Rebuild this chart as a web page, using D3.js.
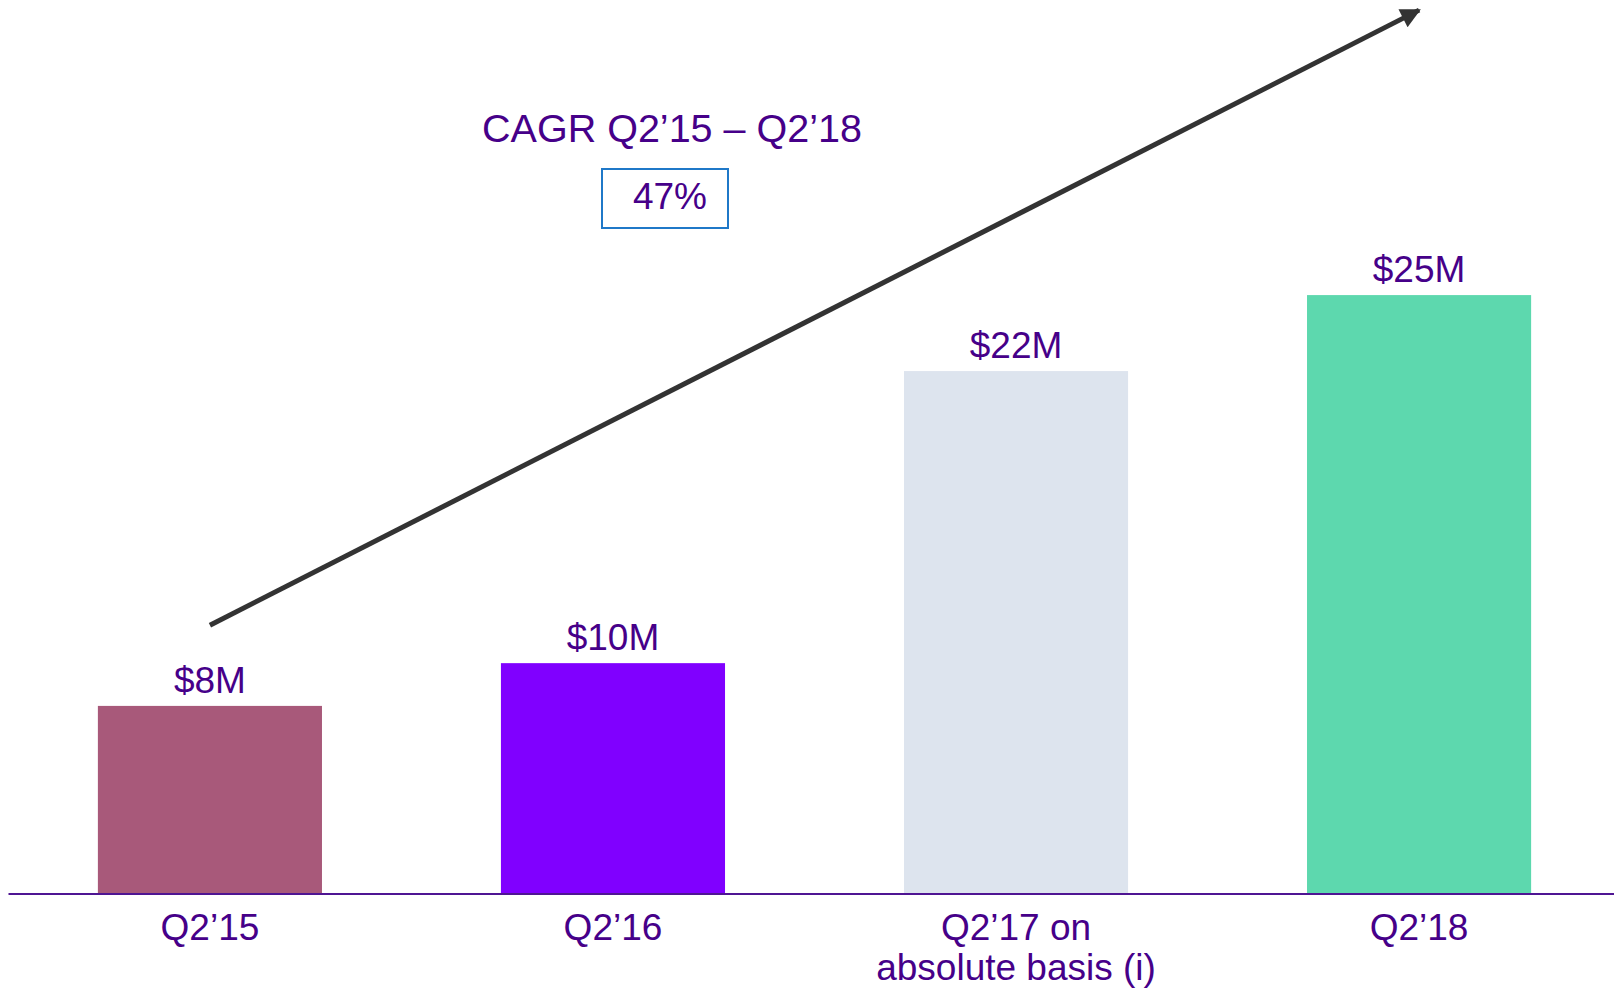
<!DOCTYPE html>
<html>
<head>
<meta charset="utf-8">
<script src="https://cdn.jsdelivr.net/npm/d3@7"></script>
<style>
  body { margin: 0; background: #fff; }
  svg { display: block; font-family: "Liberation Sans", Arial, sans-serif; }
</style>
</head>
<body>
<div id="chart"></div>
<script>
// chart data
const categories = ["Q2’15", "Q2’16", "Q2’17 on\nabsolute basis (i)", "Q2’18"];
const values = [7.9, 9.7, 22.0, 25.2];
const valueLabels = ["$8M", "$10M", "$22M", "$25M"];
const barColors = ["#a8597a", "#8000ff", "#dde4ee", "#5dd8ae"];

const cagrTitle = "CAGR Q2’15 – Q2’18";
const cagrValue = "47%";
// arrow ends, in data space (category, value)
const arrowStart = [categories[0], 11.3];
const arrowEnd = [categories[3], 37.2];

const width = 1614;
const height = 988;
const baseY = 893.5;
const textColor = "#460089";

const svg = d3
  .select("#chart")
  .append("svg")
  .attr("width", width)
  .attr("height", height);

const xScale = d3
  .scaleBand()
  .domain(categories)
  .range([8, 1621])
  .paddingInner(0.444)
  .paddingOuter(0.223);

const yScale = d3.scaleLinear().domain([0, 37.5]).range([baseY, 3]);

// bars
svg
  .selectAll("rect.bar")
  .data(values)
  .join("rect")
  .attr("class", "bar")
  .attr("x", (d, i) => xScale(categories[i]))
  .attr("y", (d) => yScale(d))
  .attr("width", xScale.bandwidth())
  .attr("height", (d) => yScale(0) - yScale(d))
  .attr("fill", (d, i) => barColors[i]);

// value labels
svg
  .selectAll("text.value")
  .data(values)
  .join("text")
  .attr("class", "value")
  .attr("x", (d, i) => xScale(categories[i]) + xScale.bandwidth() / 2)
  .attr("y", (d) => yScale(d) - 13)
  .attr("text-anchor", "middle")
  .attr("font-size", 37)
  .attr("fill", textColor)
  .text((d, i) => valueLabels[i]);

// x axis
const xAxis = svg
  .append("g")
  .attr("class", "x-axis")
  .attr("transform", `translate(0,${baseY})`)
  .call(d3.axisBottom(xScale).tickSize(0).tickSizeOuter(0));

xAxis.select(".domain").attr("stroke", "#4f1593").attr("stroke-width", 2);

xAxis
  .selectAll(".tick text")
  .attr("font-size", 37)
  .attr("font-family", "Liberation Sans, Arial, sans-serif")
  .attr("fill", textColor)
  .attr("y", 46)
  .attr("dy", 0)
  .each(function (d) {
    const lines = d.split("\n");
    const t = d3.select(this).text(null);
    lines.forEach((line, i) => {
      t.append("tspan")
        .attr("x", 0)
        .attr("dy", i === 0 ? 0 : 40)
        .text(line);
    });
  });

// trend arrow
svg
  .append("defs")
  .append("marker")
  .attr("id", "arrowhead")
  .attr("viewBox", "0 0 10 10")
  .attr("refX", 9)
  .attr("refY", 5)
  .attr("markerWidth", 4.8)
  .attr("markerHeight", 4)
  .attr("markerUnits", "strokeWidth")
  .attr("orient", "auto")
  .append("path")
  .attr("d", "M0,0L10,5L0,10Z")
  .attr("fill", "#333");

const cx = (c) => xScale(c) + xScale.bandwidth() / 2;

svg
  .append("line")
  .attr("x1", cx(arrowStart[0]))
  .attr("y1", yScale(arrowStart[1]))
  .attr("x2", cx(arrowEnd[0]))
  .attr("y2", yScale(arrowEnd[1]))
  .attr("stroke", "#333")
  .attr("stroke-width", 5)
  .attr("marker-end", "url(#arrowhead)");

// CAGR annotation
svg
  .append("text")
  .attr("x", 672)
  .attr("y", 141.5)
  .attr("text-anchor", "middle")
  .attr("font-size", 39.5)
  .attr("fill", textColor)
  .text(cagrTitle);

svg
  .append("rect")
  .attr("x", 602)
  .attr("y", 169)
  .attr("width", 126)
  .attr("height", 59)
  .attr("fill", "none")
  .attr("stroke", "#1f78c8")
  .attr("stroke-width", 2);

svg
  .append("text")
  .attr("x", 670)
  .attr("y", 208.5)
  .attr("text-anchor", "middle")
  .attr("font-size", 37)
  .attr("fill", textColor)
  .text(cagrValue);
</script>
</body>
</html>
